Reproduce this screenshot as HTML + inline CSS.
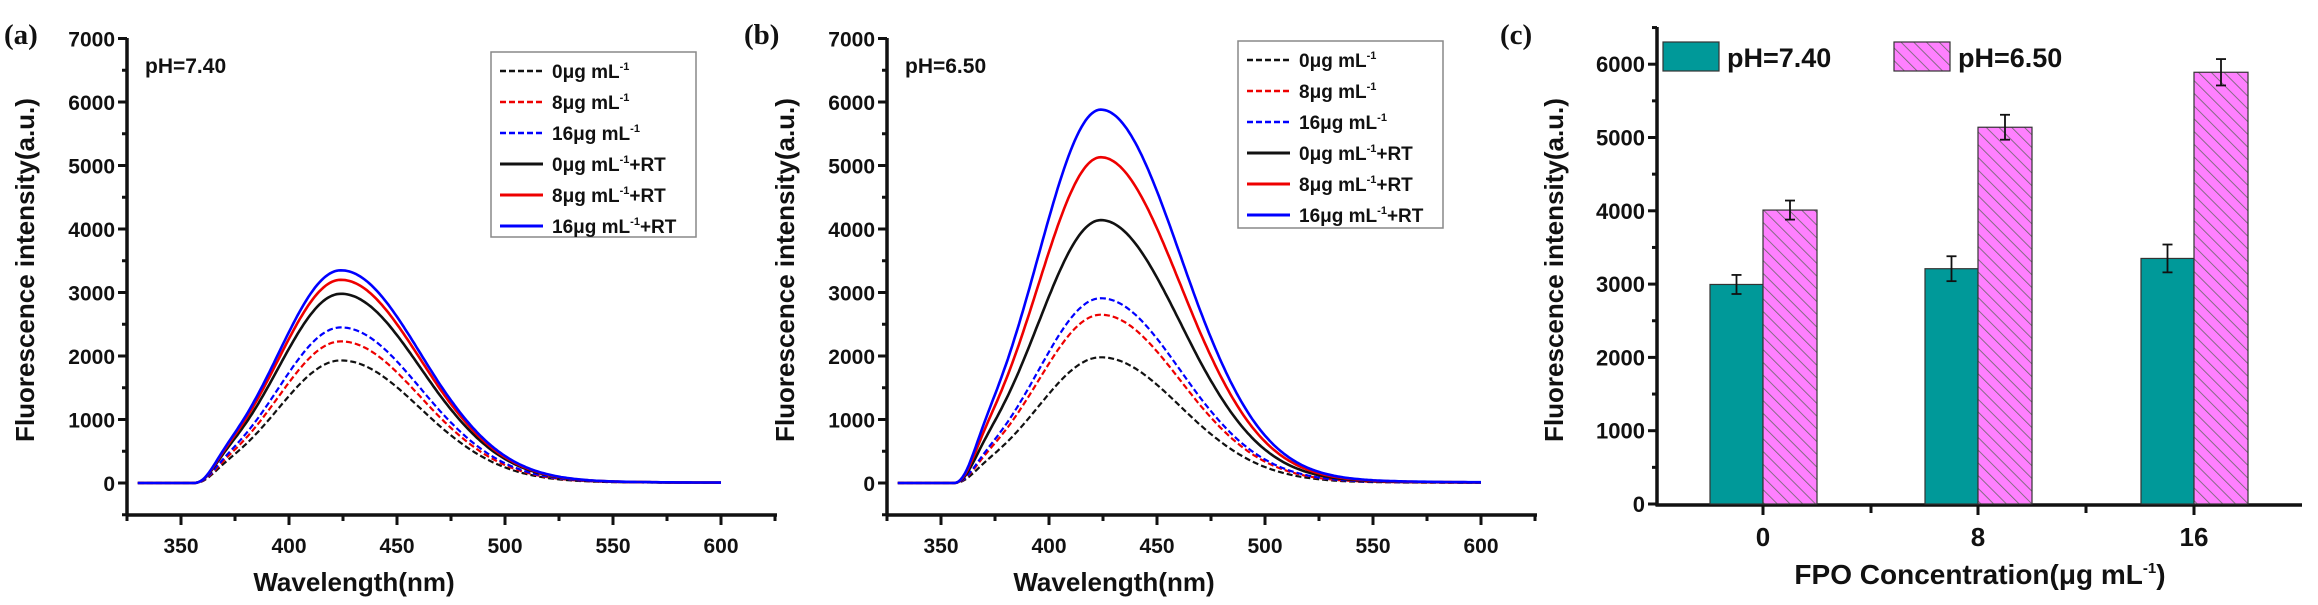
<!DOCTYPE html>
<html><head><meta charset="utf-8"><style>
body{margin:0;background:#fff}
svg{display:block}
text{font-family:"Liberation Sans",sans-serif;font-weight:bold;fill:#111}
</style></head><body>
<svg id="s" width="2318" height="605" viewBox="0 0 2318 605" xmlns="http://www.w3.org/2000/svg">
<defs>
<pattern id="h" width="9" height="9" patternUnits="userSpaceOnUse" patternTransform="rotate(-45)">
<rect width="9" height="9" fill="#ff80ff"/><line x1="0" y1="0" x2="0" y2="9" stroke="#666" stroke-width="1.6"/>
</pattern>
</defs>
</svg>
<script>
const s=document.getElementById('s');
let h='';
const T=(x,y,t,sz,anc,extra)=>{h+=`<text x="${x}" y="${y}" font-size="${sz}" text-anchor="${anc||'start'}" ${extra||''}>${t}</text>`;};
const L=(x1,y1,x2,y2,w,c,d)=>{h+=`<line x1="${x1}" y1="${y1}" x2="${x2}" y2="${y2}" stroke="${c||'#111'}" stroke-width="${w||2.5}" ${d?`stroke-dasharray="${d}"`:''}/>`;};
function spec(off,ph,peaks,leg){
  const ax=127+off, y0=483, ppk=63.5, xs=v=>181+off+(v-350)*108/50, ys=v=>y0-v*ppk/1000;
  L(ax,38,ax,516,3.5);L(ax-1.5,515,777+off,515,3.5);
  for(let v=-500;v<=7000;v+=500){const y=ys(v);L(ax-(v%1000==0?9:5),y,ax,y,3);if(v%1000==0&&v>=0)T(ax-12,y+8,v,21,'end');}
  for(let w=325;w<=625;w+=25){const x=xs(w);L(x,515,x,w%50==0?525:521,3);if(w%50==0&&w>=350&&w<=600)T(x,553,w,21,'middle');}
  T(ax+227,591,'Wavelength(nm)',26,'middle');
  T(34+off,270,'Fluorescence intensity(a.u.)',26,'middle',`transform="rotate(-90 ${34+off} 270)"`);
  T(ax+18,73,'pH='+ph,21);
  const cols=['#111','#e00','#00f','#111','#e00','#00f'];
  peaks.forEach((A,i)=>{
    let d='';
    for(let w=330;w<=600;w+=1){
      let f=0;
      if(w>356){const s=w<424?29:37;f=Math.exp(-Math.pow((w-424)/s,2)/2)*(1-Math.exp(-Math.pow((w-356)/9,2)));
        if(w>470)f+=0.012*Math.exp(-(w-470)/40)*(w-470)/30;}
      d+=(w==330?'M':'L')+xs(w).toFixed(1)+','+ys(A*f).toFixed(1);
    }
    h+=`<path d="${d}" fill="none" stroke="${cols[i]}" stroke-width="${i<3?2.2:2.6}" ${i<3?'stroke-dasharray="6,3"':''}/>`;
  });
  const [lx1,ly1,lx2,ly2,r0,dr]=leg;
  h+=`<rect x="${lx1+off}" y="${ly1}" width="${lx2-lx1}" height="${ly2-ly1}" fill="#fff" stroke="#888" stroke-width="1.5"/>`;
  const sup='<tspan font-size="11" dy="-8">-1</tspan>';
  const labs=['0μg mL'+sup,'8μg mL'+sup,'16μg mL'+sup,
   '0μg mL'+sup+'<tspan dy="8">+RT</tspan>','8μg mL'+sup+'<tspan dy="8">+RT</tspan>','16μg mL'+sup+'<tspan dy="8">+RT</tspan>'];
  for(let i=0;i<6;i++){const y=r0+i*dr;L(lx1+off+9,y,lx1+off+52,y,i<3?2.4:3,cols[i],i<3?'6,3':null);T(lx1+off+61,y+7,labs[i],19);}
}
spec(0,'7.40',[1930,2230,2450,2980,3200,3350],[491,52,696,237,71,31]);
spec(760,'6.50',[1980,2650,2910,4140,5130,5880],[478,41,683,228,60,31]);
T(4,44,'(a)',29,'start','style="font-family:Liberation Serif,serif"');
T(744,44,'(b)',29,'start','style="font-family:Liberation Serif,serif"');
T(1500,44,'(c)',29,'start','style="font-family:Liberation Serif,serif"');
{const ax=1657,y0=504,k=73.3/1000,ys=v=>y0-v*k;
 L(ax,27,ax,506,3.5);L(ax-1.5,505,2302,505,3.5);
 for(let v=0;v<=6500;v+=500){const y=ys(v);L(ax-(v%1000==0?9:5),y,ax,y,3);if(v%1000==0)T(ax-12,y+8,v,22,'end');}
 const cx=[1763,1978,2194],tv=[2995,3210,3350],te=[130,170,190],pv=[4010,5140,5890],pe=[130,170,180];
 [1871,2086].forEach(x=>L(x,505,x,513,3));
 cx.forEach((x,i)=>{L(x,505,x,515,3);T(x,546,['0','8','16'][i],26,'middle');
  h+=`<rect x="${x-53}" y="${ys(tv[i])}" width="53" height="${tv[i]*k}" fill="#009999" stroke="#333" stroke-width="1.2"/>`;
  h+=`<rect x="${x}" y="${ys(pv[i])}" width="54" height="${pv[i]*k}" fill="url(#h)" stroke="#333" stroke-width="1.2"/>`;
  [[x-26.5,tv[i],te[i]],[x+27,pv[i],pe[i]]].forEach(([bx,v,e])=>{L(bx,ys(v+e),bx,ys(v-e),1.8);L(bx-5,ys(v+e),bx+5,ys(v+e),1.8);L(bx-5,ys(v-e),bx+5,ys(v-e),1.8);});
 });
 h+=`<rect x="1663" y="42" width="56" height="29" fill="#009999" stroke="#333" stroke-width="1.2"/>`;
 T(1727,67,'pH=7.40',27);
 h+=`<rect x="1894" y="42" width="56" height="29" fill="url(#h)" stroke="#333" stroke-width="1.2"/>`;
 T(1958,67,'pH=6.50',27);
 T(1980,584,'FPO Concentration(μg mL<tspan font-size="15" dy="-11">-1</tspan><tspan dy="11">)</tspan>',28,'middle');
 T(1563,270,'Fluorescence intensity(a.u.)',26,'middle','transform="rotate(-90 1563 270)"');
}
s.insertAdjacentHTML('beforeend',h);
</script>
</body></html>
